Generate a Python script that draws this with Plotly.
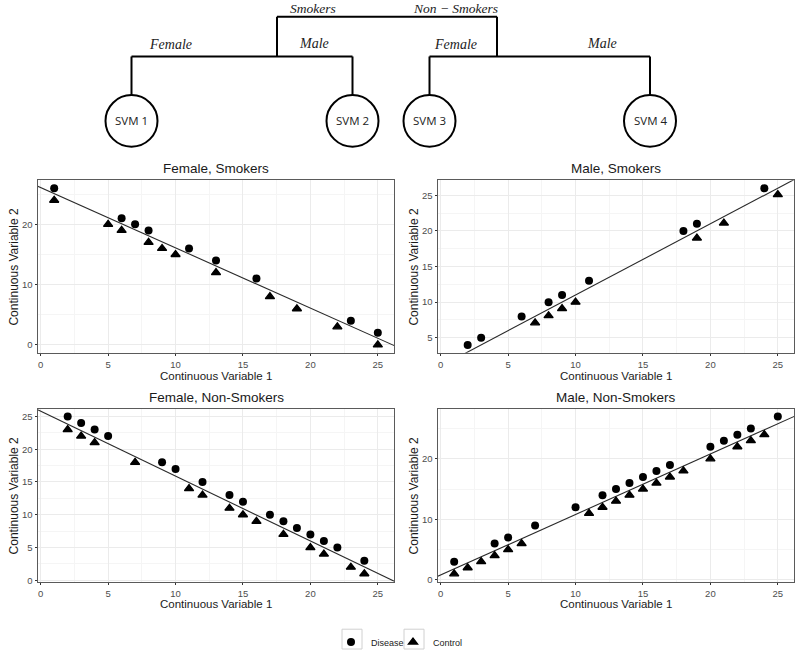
import plotly.graph_objects as go

W, H = 800, 657

# ---------------- data ----------------
panel_titles = ["Female, Smokers", "Male, Smokers", "Female, Non-Smokers", "Male, Non-Smokers"]
group_names = ["Disease", "Control"]

p1_dis_x = [1, 6, 7, 8, 11, 13, 16, 23, 25]
p1_dis_y = [26, 21, 20, 19, 16, 14, 11, 4, 2]
p1_con_x = [1, 5, 6, 8, 9, 10, 13, 17, 19, 22, 25]
p1_con_y = [24, 20, 19, 17, 16, 15, 12, 8, 6, 3, 0]
p1_fit = [26.1, -1.0]          # intercept, slope

p2_dis_x = [2, 3, 6, 8, 9, 11, 18, 19, 24]
p2_dis_y = [4, 5, 8, 10, 11, 13, 20, 21, 26]
p2_con_x = [7, 8, 9, 10, 19, 21, 25]
p2_con_y = [7.1, 8.1, 9.1, 10, 19, 21.1, 25.1]
p2_fit = [1.0, 1.0]

p3_dis_x = [2, 3, 4, 5, 9, 10, 12, 14, 15, 17, 18, 19, 20, 21, 22, 24]
p3_dis_y = [25, 24, 23, 22, 18, 17, 15, 13, 12, 10, 9, 8, 7, 6, 5, 3]
p3_con_x = [2, 3, 4, 7, 11, 12, 14, 15, 16, 18, 20, 21, 23, 24]
p3_con_y = [23, 22, 21, 18, 14, 13, 11, 10, 9, 7, 5, 4, 2, 1]
p3_fit = [25.8, -0.99]

p4_dis_x = [1, 4, 5, 7, 10, 12, 13, 14, 15, 16, 17, 20, 21, 22, 23, 25]
p4_dis_y = [3, 6, 7, 9, 12, 14, 15, 16, 17, 18, 19, 22, 23, 24, 25, 27]
p4_con_x = [1, 2, 3, 4, 5, 6, 11, 12, 13, 14, 15, 16, 17, 18, 20, 22, 23, 24]
p4_con_y = [1, 2, 3, 4, 5, 6, 11, 12, 13, 14, 15, 16, 17, 18, 20, 22, 23, 24]
p4_fit = [0.8, 1.0]

x_range = [-0.2, 26.2]
y_ranges = [[-1.3, 27.3], [2.9, 27.1], [-0.2, 26.1], [-0.3, 28.2]]
y_dticks = [10, 5, 5, 10]

# tree diagram text
svm_labels = ["SVM 1", "SVM 2", "SVM 3", "SVM 4"]
branch_top = ["Smokers", "Non \u2212 Smokers"]
branch_mid = ["Female", "Male", "Female", "Male"]

# ---------------- helpers (screen px -> paper) ----------------
def px(x):
    return x / W

def py(y):
    return 1 - y / H

panels = [
    (p1_dis_x, p1_dis_y, p1_con_x, p1_con_y, p1_fit),
    (p2_dis_x, p2_dis_y, p2_con_x, p2_con_y, p2_fit),
    (p3_dis_x, p3_dis_y, p3_con_x, p3_con_y, p3_fit),
    (p4_dis_x, p4_dis_y, p4_con_x, p4_con_y, p4_fit),
]

# panel pixel boxes (left, right, top, bottom)
boxes = [(38, 394, 182, 356), (438, 794, 182, 356),
         (38, 394, 413, 587), (438, 794, 413, 587)]
xtitle_gap = [23, 23, 23, 23]

fig = go.Figure()
layout = {}
annotations = []
shapes = []

AX_FONT = "Liberation Sans, Arial, sans-serif"

for i, (dx, dy, cx, cy, fit) in enumerate(panels):
    n = i + 1
    xa = "x" if n == 1 else f"x{n}"
    ya = "y" if n == 1 else f"y{n}"
    l, r, t, b = boxes[i]
    lx = [x_range[0] - 1, x_range[1] + 1]
    ly = [fit[0] + fit[1] * v for v in lx]
    fig.add_trace(go.Scatter(x=lx, y=ly, mode="lines", xaxis=xa, yaxis=ya,
                             line=dict(color="#2a2a2a", width=1.1),
                             showlegend=False, hoverinfo="skip"))
    fig.add_trace(go.Scatter(x=dx, y=dy, mode="markers", xaxis=xa, yaxis=ya,
                             name=group_names[0], legendgroup="d", showlegend=(i == 0),
                             legend="legend",
                             marker=dict(symbol="circle", size=8, color="black")))
    fig.add_trace(go.Scatter(x=cx, y=cy, mode="markers", xaxis=xa, yaxis=ya,
                             name=group_names[1], legendgroup="c", showlegend=(i == 0),
                             legend="legend2",
                             marker=dict(symbol="triangle-up", size=8, color="black",
                                         line=dict(color="black", width=1.3))))
    axcommon = dict(showline=True, mirror=True, linecolor="#5a5a5a", linewidth=1,
                    ticks="outside", ticklen=2.5, tickcolor="#333333", tickwidth=1,
                    tickfont=dict(family=AX_FONT, size=9.5, color="#4d4d4d"),
                    showgrid=True, gridcolor="#ebebeb", gridwidth=1, zeroline=False)
    layout["xaxis" if n == 1 else f"xaxis{n}"] = dict(
        axcommon, domain=[px(l), px(r)], range=x_range, anchor=ya, dtick=5, tick0=0,
        minor=dict(showgrid=True, gridcolor="#f5f5f5", dtick=2.5, tick0=0))
    layout["yaxis" if n == 1 else f"yaxis{n}"] = dict(
        axcommon, domain=[py(b), py(t)], range=y_ranges[i], anchor=xa,
        dtick=y_dticks[i], tick0=0,
        minor=dict(showgrid=True, gridcolor="#f5f5f5", dtick=y_dticks[i] / 2, tick0=0))
    cxp = (l + r) / 2
    cyp = (t + b) / 2
    annotations.append(dict(text=panel_titles[i], x=px(cxp), y=py(t - 12), xref="paper", yref="paper",
                            showarrow=False, xanchor="center", yanchor="middle",
                            font=dict(family=AX_FONT, size=13.5, color="#1a1a1a")))
    annotations.append(dict(text="Continuous Variable 1", x=px(cxp), y=py(b + xtitle_gap[i]),
                            xref="paper", yref="paper",
                            showarrow=False, xanchor="center", yanchor="middle",
                            font=dict(family=AX_FONT, size=11.5, color="#1a1a1a")))
    annotations.append(dict(text="Continuous Variable 2", x=px(l - 24), y=py(cyp), xref="paper", yref="paper",
                            showarrow=False, xanchor="center", yanchor="middle", textangle=-90,
                            font=dict(family=AX_FONT, size=12, color="#1a1a1a")))

# ---------------- tree diagram ----------------
top_y, mid_y, leaf_top, leaf_cy, leaf_r = 17, 57, 96, 122, 26
root_x = [277, 497]
leaf_x = [131.5, 352.5, 429.5, 650]
LW = 2
def seg(x0, y0, x1, y1):
    shapes.append(dict(type="line", xref="paper", yref="paper",
                       x0=px(x0), y0=py(y0), x1=px(x1), y1=py(y1),
                       line=dict(color="black", width=LW)))

seg(root_x[0], top_y, root_x[1], top_y)
seg(root_x[0], top_y, root_x[0], mid_y)
seg(root_x[1], top_y, root_x[1], mid_y)
seg(leaf_x[0], mid_y, leaf_x[1], mid_y)
seg(leaf_x[2], mid_y, leaf_x[3], mid_y)
for lxp in leaf_x:
    seg(lxp, mid_y, lxp, leaf_top)
    shapes.append(dict(type="circle", xref="paper", yref="paper",
                       x0=px(lxp - leaf_r), x1=px(lxp + leaf_r),
                       y0=py(leaf_cy + leaf_r), y1=py(leaf_cy - leaf_r),
                       line=dict(color="black", width=LW), fillcolor="white"))

for lab, lxp in zip(svm_labels, leaf_x):
    annotations.append(dict(text=lab, x=px(lxp), y=py(leaf_cy), xref="paper", yref="paper",
                            showarrow=False, xanchor="center", yanchor="middle",
                            font=dict(family="Open Sans, sans-serif", size=11.5, color="#222")))

SERIF = "Liberation Serif, DejaVu Serif, serif"
for lab, (tx, ty) in zip(branch_top, [(313, 8.5), (455, 8.5)]):
    annotations.append(dict(text=f"<i>{lab}</i>", x=px(tx), y=py(ty), xref="paper", yref="paper",
                            showarrow=False, xanchor="center", yanchor="middle",
                            font=dict(family=SERIF, size=13.5, color="#222")))
for lab, (tx, ty) in zip(branch_mid, [(170, 45), (314, 44), (455, 45), (602, 44)]):
    annotations.append(dict(text=f"<i>{lab}</i>", x=px(tx), y=py(ty), xref="paper", yref="paper",
                            showarrow=False, xanchor="center", yanchor="middle",
                            font=dict(family=SERIF, size=14, color="#222")))

# legend key boxes
key_x = [352, 414]
for kx in key_x:
    shapes.append(dict(type="rect", xref="paper", yref="paper", layer="below",
                       x0=px(kx - 10), x1=px(kx + 10), y0=py(655), y1=py(635),
                       line=dict(color="#d0d0d0", width=1), fillcolor="white"))

legend_common = dict(orientation="h", xanchor="left", yanchor="middle",
                     font=dict(family=AX_FONT, size=9, color="#222"),
                     bgcolor="rgba(0,0,0,0)", itemclick=False, itemdoubleclick=False)

fig.update_layout(
    **layout,
    width=W, height=H,
    margin=dict(l=0, r=0, t=0, b=0),
    paper_bgcolor="white", plot_bgcolor="white",
    annotations=annotations, shapes=shapes,
    showlegend=True,
    legend=dict(legend_common, x=px(key_x[0] - 21), y=py(648)),
    legend2=dict(legend_common, x=px(key_x[1] - 21), y=py(648)),
)

# remove the browser's default 8px body margin so the figure fills the window
fig.write_html("out.html", config={"displayModeBar": False},
               post_script="document.body.style.margin='0';")
